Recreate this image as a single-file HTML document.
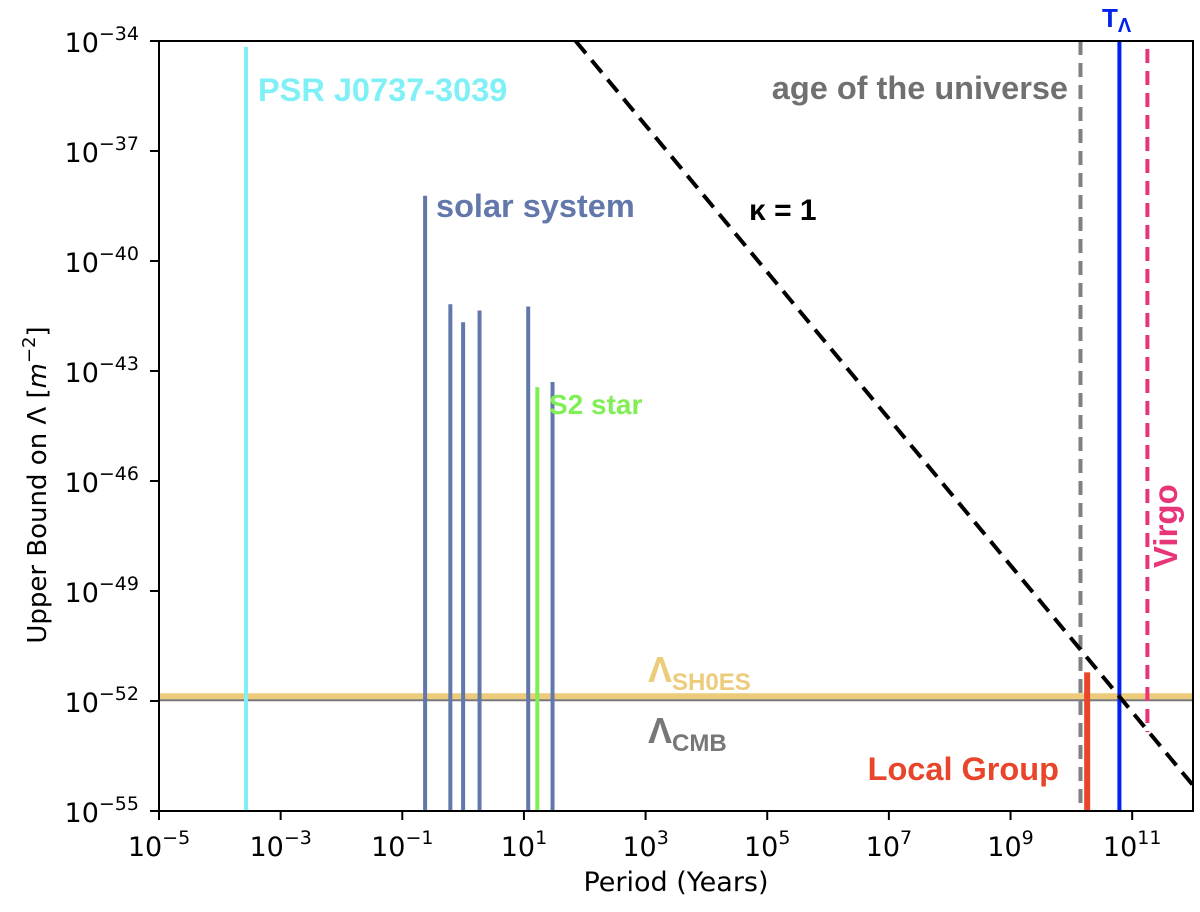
<!DOCTYPE html>
<html><head><meta charset="utf-8"><style>
body{margin:0;background:#fff}
svg{display:block;font-family:"Liberation Sans","DejaVu Sans",sans-serif}
</style></head><body>
<svg id="chart" width="1200" height="912" viewBox="0 0 1200 912">
<g id="marks"></g>
<g id="axes"></g>
</svg>
<script>
const periodLogs=[-3.57,-0.625,-0.21,0.0,0.27,1.07,1.22,1.47];
const boundLogs=[-34.16,-38.22,-41.18,-41.67,-41.35,-41.24,-43.44,-43.30];
const barNames=['psr-bar','mercury-bar','venus-bar','earth-bar','mars-bar','jupiter-bar','s2-bar','saturn-bar'];
const barColors=['#7ff0f5','#6277aa','#6277aa','#6277aa','#6277aa','#6277aa','#80ee55','#6277aa'];
const lambdaSH0ES=-51.87, lambdaCMB=-51.98;
const ageUniverseLog=10.15, localGroupLog=10.26, localGroupTop=-51.22, tLambdaLog=10.79, virgoLog=11.25, virgoBottom=-52.85;
const kappaIntercept=-30.3, kappaSlope=-2;
const xTicks=[-5,-3,-1,1,3,5,7,9,11];
const yTicks=[-34,-37,-40,-43,-46,-49,-52,-55];
const X0=159,X1=1193,Y0=41,Y1=811,xmin=-5,xmax=12,ymin=-55,ymax=-34;
const sx=v=>X0+(v-xmin)/(xmax-xmin)*(X1-X0);
const sy=v=>Y1-(v-ymin)/(ymax-ymin)*(Y1-Y0);
const NS='http://www.w3.org/2000/svg';
const marks=document.getElementById('marks'),axes=document.getElementById('axes');
function mk(tag,attrs,parent){const e=document.createElementNS(NS,tag);for(const k in attrs)e.setAttribute(k,attrs[k]);parent.appendChild(e);return e;}
let e=mk('line',{x1:X0,x2:X1,y1:sy(lambdaSH0ES),y2:sy(lambdaSH0ES),stroke:'#eccc7a','stroke-width':6},marks);


e=mk('line',{x1:X0,x2:X1,y1:sy(lambdaCMB),y2:sy(lambdaCMB),stroke:'#777','stroke-width':2},marks);


periodLogs.forEach((p,i)=>{
 const b=mk('line',{x1:sx(p),x2:sx(p),y1:sy(boundLogs[i]),y2:Y1,stroke:barColors[i],'stroke-width':4},marks);
 
 
});
e=mk('line',{x1:sx(ageUniverseLog),x2:sx(ageUniverseLog),y1:Y0,y2:Y1,stroke:'#808080','stroke-width':4,'stroke-dasharray':'14,8'},marks);


e=mk('line',{x1:sx(localGroupLog),x2:sx(localGroupLog),y1:sy(localGroupTop),y2:Y1,stroke:'#e8452a','stroke-width':6},marks);


e=mk('line',{x1:sx(tLambdaLog),x2:sx(tLambdaLog),y1:Y0,y2:Y1,stroke:'#0022ee','stroke-width':4},marks);


e=mk('line',{x1:sx(virgoLog),x2:sx(virgoLog),y1:Y0+8,y2:sy(virgoBottom),stroke:'#e8357a','stroke-width':4,'stroke-dasharray':'14,8'},marks);


const kx0=(ymax-kappaIntercept)/kappaSlope;
e=mk('line',{x1:sx(kx0),y1:sy(ymax),x2:sx(xmax),y2:sy(kappaIntercept+kappaSlope*xmax),stroke:'#000','stroke-width':4,'stroke-dasharray':'16,9'},marks);


e=mk('rect',{x:X0,y:Y0,width:X1-X0,height:Y1-Y0,fill:'none',stroke:'#000','stroke-width':2},axes);


xTicks.forEach(t=>{
 const x=sx(t);
 mk('line',{x1:x,x2:x,y1:Y1,y2:Y1+9,stroke:'#000','stroke-width':2},axes);
 const g=mk('text',{x:x,y:Y1+45,'text-anchor':'middle','font-size':27,fill:'#000','font-family':'DejaVu Sans, sans-serif'},axes);
 
 
 g.innerHTML='10<tspan dy="-12" font-size="19">'+(t<0?'\u2212'+(-t):t)+'</tspan>';
});
yTicks.forEach(t=>{
 const y=sy(t);
 mk('line',{x1:X0-9,x2:X0,y1:y,y2:y,stroke:'#000','stroke-width':2},axes);
 const g=mk('text',{x:X0-20,y:y+11,'text-anchor':'end','font-size':27,fill:'#000','font-family':'DejaVu Sans, sans-serif'},axes);
 
 
 g.innerHTML='10<tspan dy="-12" font-size="19">\u2212'+(-t)+'</tspan>';
});
</script>
<svg width="1200" height="912" style="position:absolute;left:0;top:0;font-family:'Liberation Sans','DejaVu Sans',sans-serif">
<text x="676" y="891" text-anchor="middle" font-size="27" font-family="DejaVu Sans, sans-serif">Period (Years)</text>
<text transform="translate(46,485) rotate(-90)" text-anchor="middle" font-size="26" font-family="DejaVu Sans, sans-serif">Upper Bound on Λ    [<tspan font-style="italic">m</tspan><tspan dy="-11" font-size="18">−2</tspan><tspan dy="11">]</tspan></text>
<g font-weight="bold" font-size="32">
<text x="258" y="101" fill="#7ff0f5" font-size="32.5">PSR J0737-3039</text>
<text x="436" y="217" fill="#6277aa" font-size="32.5">solar system</text>
<text x="549" y="414" fill="#80ee55" font-size="28">S2 star</text>
<text x="749" y="220" fill="#000" font-size="30">κ = 1</text>
<text x="1068" y="99" fill="#707070" text-anchor="end" font-size="32.5">age of the universe</text>
<text x="1102" y="27" fill="#0022ee" font-size="26">T<tspan dy="5" font-size="20">Λ</tspan></text>
<text transform="translate(1177,568) rotate(-90)" fill="#e8357a" font-size="33">Virgo</text>
<text x="648" y="682" fill="#eccc7a" font-size="36">Λ<tspan dy="8" font-size="24">SH0ES</tspan></text>
<text x="648" y="743" fill="#777" font-size="36">Λ<tspan dy="8" font-size="24">CMB</tspan></text>
<text x="1059" y="780" fill="#e8452a" text-anchor="end" font-size="32.5">Local Group</text>
</g>
</svg>
</body></html>
